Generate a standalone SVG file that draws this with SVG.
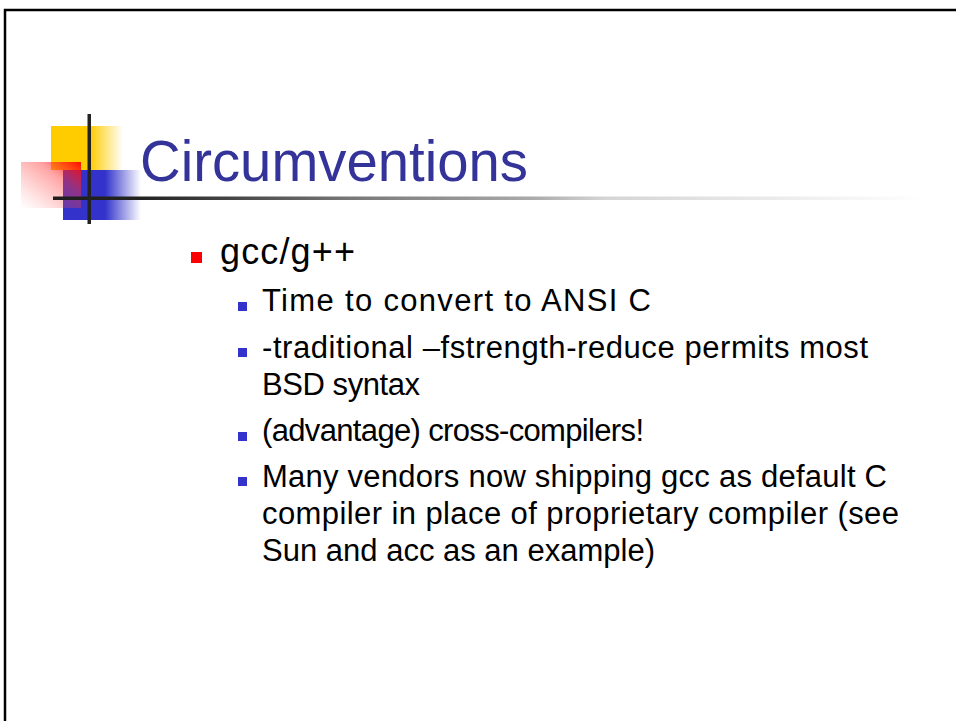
<svg xmlns="http://www.w3.org/2000/svg" width="956" height="721" viewBox="0 0 956 721">
  <style>
    .title { font-family: "Liberation Sans", Arial, sans-serif; font-size: 58px; fill: #333399; }
    .l1 { font-family: "Liberation Sans", Arial, sans-serif; font-size: 36px; fill: #000; }
    .l2 { font-family: "Liberation Sans", Arial, sans-serif; font-size: 31px; fill: #000; }
    .b1 { fill: #ff0000; }
    .b2 { fill: #3333cc; }
  </style>
  <defs>
    <linearGradient id="yellowFade" x1="51" y1="0" x2="123" y2="0" gradientUnits="userSpaceOnUse">
      <stop offset="0" stop-color="#ffcc00"/>
      <stop offset="0.54" stop-color="#ffcc00"/>
      <stop offset="1" stop-color="#ffcc00" stop-opacity="0"/>
    </linearGradient>
    <linearGradient id="blueFade" x1="63" y1="0" x2="141" y2="0" gradientUnits="userSpaceOnUse">
      <stop offset="0" stop-color="#3333cc"/>
      <stop offset="0.54" stop-color="#3333cc"/>
      <stop offset="1" stop-color="#3333cc" stop-opacity="0"/>
    </linearGradient>
    <linearGradient id="redFade" x1="1" y1="0" x2="0" y2="1">
      <stop offset="0" stop-color="#ff0000" stop-opacity="0.95"/>
      <stop offset="0.35" stop-color="#ff3333" stop-opacity="0.45"/>
      <stop offset="1" stop-color="#ff6666" stop-opacity="0"/>
    </linearGradient>
    <linearGradient id="ruleFade" x1="53" y1="0" x2="925" y2="0" gradientUnits="userSpaceOnUse">
      <stop offset="0" stop-color="#1e1e1e"/>
      <stop offset="0.1" stop-color="#222222"/>
      <stop offset="0.2" stop-color="#444444"/>
      <stop offset="0.34" stop-color="#777777"/>
      <stop offset="0.55" stop-color="#aaaaaa"/>
      <stop offset="0.63" stop-color="#d4d4d4"/>
      <stop offset="1" stop-color="#ffffff"/>
    </linearGradient>
  </defs>

  <rect width="956" height="721" fill="#ffffff"/>
  <!-- slide frame -->
  <path d="M5,721 V10 H956" fill="none" stroke="#000" stroke-width="2.5"/>

  <!-- title ornament -->
  <g id="ornament">
    <rect x="51" y="126" width="72" height="44" fill="url(#yellowFade)"/>
    <rect x="63" y="170" width="78" height="50" fill="url(#blueFade)"/>
    <rect x="21" y="162" width="60" height="46" fill="url(#redFade)"/>
    <rect x="53" y="196.5" width="872" height="3.5" fill="url(#ruleFade)"/>
    <rect x="87.5" y="114" width="3.5" height="110" fill="#222222"/>
  </g>

  <g id="title">
    <text class="title" x="140" y="181" textLength="388" lengthAdjust="spacingAndGlyphs">Circumventions</text>
  </g>

  <g id="bullet-gcc">
    <rect class="b1" x="191" y="252" width="11" height="11"/>
    <text class="l1" x="220" y="264" textLength="135">gcc/g++</text>
  </g>

  <g id="item-ansi">
    <rect class="b2" x="238" y="302" width="9" height="9"/>
    <text class="l2" x="262" y="311" textLength="389">Time to convert to ANSI C</text>
  </g>

  <g id="item-traditional">
    <rect class="b2" x="238" y="348" width="9" height="9"/>
    <text class="l2" x="262" y="358" textLength="606">-traditional –fstrength-reduce permits most</text>
    <text class="l2" x="262" y="395" textLength="158">BSD syntax</text>
  </g>

  <g id="item-cross">
    <rect class="b2" x="238" y="432" width="9" height="9"/>
    <text class="l2" x="262" y="441" textLength="382">(advantage) cross-compilers!</text>
  </g>

  <g id="item-vendors">
    <rect class="b2" x="238" y="477" width="9" height="9"/>
    <text class="l2" x="262" y="487" textLength="625">Many vendors now shipping gcc as default C</text>
    <text class="l2" x="262" y="524" textLength="637">compiler in place of proprietary compiler (see</text>
    <text class="l2" x="262" y="561" textLength="393">Sun and acc as an example)</text>
  </g>
</svg>
